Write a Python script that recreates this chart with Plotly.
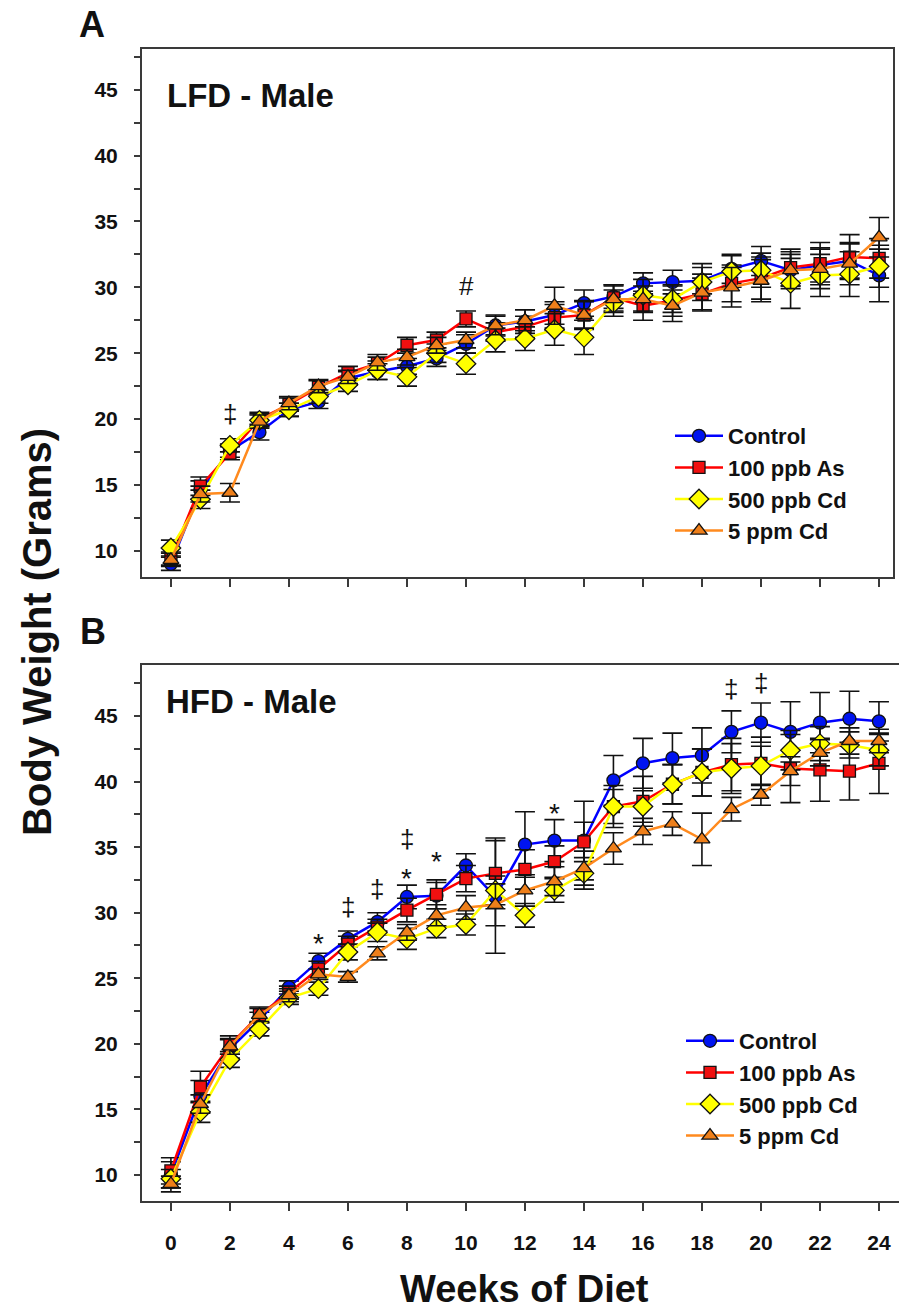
import plotly.graph_objects as go

weeks = list(range(25))
series_names = ["Control", "100 ppb As", "500 ppb Cd", "5 ppm Cd"]

# LFD - Male: mean body weight (g) per week
lfd_control = [9.0, 14.6, 17.6, 19.0, 20.7, 21.3, 23.1, 23.6, 24.0, 24.6, 25.7, 27.1, 27.4,
               27.9, 28.8, 29.3, 30.3, 30.4, 30.5, 31.4, 32.0, 31.3, 31.7, 32.0, 30.9]
lfd_as100 = [9.4, 14.9, 17.4, 20.0, 21.1, 22.4, 23.5, 24.2, 25.6, 26.0, 27.6, 26.6, 27.0,
             27.7, 27.9, 29.2, 28.6, 29.0, 29.5, 30.3, 30.7, 31.5, 31.8, 32.3, 32.2]
lfd_cd500 = [10.2, 13.9, 18.0, 19.9, 20.7, 21.7, 22.6, 23.7, 23.2, 25.0, 24.2, 26.0, 26.1,
             26.8, 26.2, 28.8, 29.4, 29.1, 30.4, 31.2, 31.3, 30.3, 30.9, 31.0, 31.6]
lfd_cd5 = [9.3, 14.3, 14.4, 19.8, 21.2, 22.5, 23.2, 24.3, 24.7, 25.6, 26.0, 27.1, 27.5,
           28.6, 27.9, 29.1, 29.1, 28.6, 29.6, 30.0, 30.5, 31.3, 31.4, 31.8, 33.8]

# LFD - Male: SEM
lfd_control_sem = [0.5, 0.7, 0.5, 0.6, 0.5, 0.5, 0.5, 0.6, 0.6, 0.6, 0.7, 0.8, 0.9,
                   1.0, 1.0, 0.9, 0.8, 0.9, 1.0, 1.1, 1.1, 1.2, 1.3, 1.3, 2.0]
lfd_as100_sem = [0.5, 0.7, 0.5, 0.5, 0.5, 0.5, 0.5, 0.5, 0.6, 0.6, 0.6, 0.7, 0.8,
                 1.0, 1.1, 1.0, 1.1, 1.2, 1.2, 1.4, 1.6, 1.4, 1.6, 1.7, 1.5]
lfd_cd500_sem = [0.6, 0.7, 0.5, 0.5, 0.5, 0.5, 0.5, 0.7, 0.7, 0.7, 0.8, 0.9, 0.9,
                 1.2, 1.3, 1.0, 1.2, 1.0, 1.4, 1.2, 1.3, 1.9, 1.6, 1.7, 1.6]
lfd_cd5_sem = [0.5, 0.6, 0.7, 0.5, 0.5, 0.5, 0.5, 0.6, 0.6, 0.6, 0.6, 0.7, 0.8,
               1.4, 1.0, 1.0, 1.0, 1.2, 1.4, 1.5, 1.6, 1.4, 1.5, 1.6, 1.5]

# HFD - Male: mean body weight (g) per week
hfd_control = [10.0, 16.0, 19.6, 21.8, 24.3, 26.3, 28.0, 29.3, 31.2, 31.3, 33.6, 31.2, 35.2,
               35.5, 35.5, 40.1, 41.4, 41.8, 42.0, 43.8, 44.5, 43.8, 44.5, 44.8, 44.6]
hfd_as100 = [10.3, 16.7, 19.9, 22.2, 23.9, 25.7, 27.6, 28.9, 30.2, 31.4, 32.6, 33.0, 33.3,
             33.9, 35.4, 38.1, 38.5, 39.8, 40.7, 41.3, 41.4, 41.0, 40.9, 40.8, 41.4]
hfd_cd500 = [9.7, 14.8, 18.8, 21.1, 23.5, 24.2, 27.0, 28.5, 28.0, 28.8, 29.1, 31.7, 29.8,
             31.7, 33.0, 38.1, 38.1, 39.8, 40.7, 41.0, 41.2, 42.4, 42.9, 42.8, 42.4]
hfd_cd5 = [9.3, 15.4, 19.8, 22.2, 23.7, 25.3, 25.1, 26.9, 28.5, 29.8, 30.4, 30.6, 31.7,
           32.4, 33.4, 34.9, 36.2, 36.8, 35.6, 37.9, 39.0, 40.8, 42.2, 43.1, 43.1]

# HFD - Male: SEM
hfd_control_sem = [1.0, 1.2, 0.7, 0.6, 0.5, 0.6, 0.6, 0.7, 0.9, 1.0, 0.9, 4.3, 2.5,
                   1.6, 3.0, 1.9, 1.9, 1.9, 2.1, 1.6, 1.5, 2.3, 2.3, 2.1, 1.5]
hfd_as100_sem = [1.0, 1.2, 0.7, 0.6, 0.5, 0.6, 0.6, 0.6, 0.9, 1.1, 1.0, 2.7, 1.5,
                 1.2, 1.5, 1.6, 1.9, 1.5, 1.8, 2.0, 2.0, 2.6, 2.4, 2.2, 2.3]
hfd_cd500_sem = [0.7, 0.8, 0.6, 0.5, 0.5, 0.5, 0.6, 0.7, 0.8, 0.7, 0.8, 1.1, 0.9,
                 0.9, 1.2, 1.3, 1.2, 1.5, 1.8, 1.9, 1.5, 1.5, 1.3, 1.0, 1.2]
hfd_cd5_sem = [0.6, 0.7, 0.6, 0.5, 0.5, 0.4, 0.4, 0.5, 0.6, 0.8, 0.9, 1.6, 1.2,
               1.1, 1.3, 1.2, 1.0, 0.9, 2.0, 0.9, 0.8, 1.1, 1.0, 1.0, 0.9]

# significance marks: (symbol, week, y position)
lfd_marks = [("‡", 2, 20.4), ("#", 10, 30.1)]
hfd_marks = [("*", 5, 28.1), ("‡", 6, 30.4), ("‡", 7, 31.8), ("*", 8, 33.1), ("‡", 8, 35.6),
             ("*", 9, 34.4), ("*", 13, 38.0), ("‡", 19, 47.1), ("‡", 20, 47.5)]

line_colors = ["#0000FF", "#FF0000", "#FFFF00", "#FF8A1E"]
fill_colors = ["#0014F0", "#F01010", "#FFFF00", "#EE7F1A"]
symbols = ["circle", "square", "diamond", "triangle-up"]
sizes = [13, 12, 15, 14]

FONT = "Liberation Sans, Arial, sans-serif"
W, H = 899, 1309


def px_x(p):
    return p / W


def px_y(p):
    return 1 - p / H


fig = go.Figure()

panels = [
    ("x", "y", "legend", [lfd_control, lfd_as100, lfd_cd500, lfd_cd5],
     [lfd_control_sem, lfd_as100_sem, lfd_cd500_sem, lfd_cd5_sem]),
    ("x2", "y2", "legend2", [hfd_control, hfd_as100, hfd_cd500, hfd_cd5],
     [hfd_control_sem, hfd_as100_sem, hfd_cd500_sem, hfd_cd5_sem]),
]

for xa, ya, lg, means, sems in panels:
    for i, name in enumerate(series_names):
        fig.add_trace(go.Scatter(
            x=weeks, y=means[i], name=name, xaxis=xa, yaxis=ya, legend=lg,
            mode="lines+markers",
            line=dict(color=line_colors[i], width=2.5),
            marker=dict(symbol=symbols[i], size=sizes[i], color=fill_colors[i],
                        line=dict(color="#111111", width=1.3)),
            error_y=dict(type="data", array=sems[i], color="#111111", thickness=1.6, width=10),
        ))

axis_line = dict(showline=True, linecolor="#3a3a3a", linewidth=2, showgrid=False,
                 zeroline=False, ticks="outside", tickcolor="#3a3a3a", tickwidth=2)
tick_font = dict(family=FONT, size=21, color="#111111", weight="bold")

x_common = dict(axis_line, tickmode="linear", tick0=0, dtick=2, ticklen=8, tickfont=tick_font,
                ticklabelstandoff=14)
y_common = dict(axis_line, tickmode="linear", tick0=10, dtick=5, ticklen=6, tickfont=tick_font,
                ticklabelstandoff=12,
                minor=dict(dtick=2.5, tick0=10, ticks="outside", ticklen=6, tickwidth=1.5,
                           tickcolor="#3a3a3a"))

legend_font = dict(family=FONT, size=22, color="#111111", weight="bold")

fig.update_layout(
    width=W, height=H, margin=dict(l=0, r=0, t=0, b=0),
    paper_bgcolor="white", plot_bgcolor="white",
    xaxis=dict(x_common, domain=[px_x(142), px_x(893)], range=[-0.98, 24.47],
               anchor="y", mirror=True, showticklabels=False),
    yaxis=dict(y_common, domain=[px_y(577), px_y(49)], range=[8, 48.1],
               anchor="x", mirror=True),
    xaxis2=dict(x_common, domain=[px_x(142), 1.0], range=[-0.98, 24.68],
                anchor="y2", mirror=True),
    yaxis2=dict(y_common, domain=[px_y(1201), px_y(665)], range=[8, 48.9],
                anchor="x2", mirror=False),
    legend=dict(x=px_x(670), y=px_y(415), xanchor="left", yanchor="top",
                font=legend_font, bgcolor="rgba(0,0,0,0)", itemwidth=48, tracegroupgap=0),
    legend2=dict(x=px_x(681), y=px_y(1020), xanchor="left", yanchor="top",
                 font=legend_font, bgcolor="rgba(0,0,0,0)", itemwidth=48, tracegroupgap=0),
    showlegend=True,
)

annotations = []
for sym, wk, yv in lfd_marks:
    annotations.append(dict(text=sym, x=wk, y=yv, xref="x", yref="y", showarrow=False,
                            font=dict(family=FONT, size=26, color="#111111"),
                            yshift=-6 if sym == "*" else 0))
for sym, wk, yv in hfd_marks:
    annotations.append(dict(text=sym, x=wk, y=yv, xref="x2", yref="y2", showarrow=False,
                            font=dict(family=FONT, size=28 if sym == "*" else 26, color="#111111"),
                            yshift=-6 if sym == "*" else 0))

# panel titles and letters
annotations += [
    dict(text="LFD - Male", x=px_x(165), y=px_y(96), xref="paper", yref="paper",
         xanchor="left", yanchor="middle", showarrow=False,
         font=dict(family=FONT, size=33, color="#111111", weight="bold")),
    dict(text="HFD - Male", x=px_x(164), y=px_y(701), xref="paper", yref="paper",
         xanchor="left", yanchor="middle", showarrow=False,
         font=dict(family=FONT, size=33, color="#111111", weight="bold")),
    dict(text="A", x=px_x(92), y=px_y(24), xref="paper", yref="paper",
         xanchor="center", yanchor="middle", showarrow=False,
         font=dict(family=FONT, size=36, color="#111111", weight="bold")),
    dict(text="B", x=px_x(93), y=px_y(631), xref="paper", yref="paper",
         xanchor="center", yanchor="middle", showarrow=False,
         font=dict(family=FONT, size=36, color="#111111", weight="bold")),
    dict(text="Body Weight (Grams)", x=px_x(37), y=px_y(632), xref="paper", yref="paper",
         xanchor="center", yanchor="middle", showarrow=False, textangle=-90,
         font=dict(family=FONT, size=40, color="#111111", weight="bold")),
    dict(text="Weeks of Diet", x=px_x(524), y=px_y(1289), xref="paper", yref="paper",
         xanchor="center", yanchor="middle", showarrow=False,
         font=dict(family=FONT, size=38, color="#111111", weight="bold")),
]
fig.update_layout(annotations=annotations)

fig.write_html("out.html")
